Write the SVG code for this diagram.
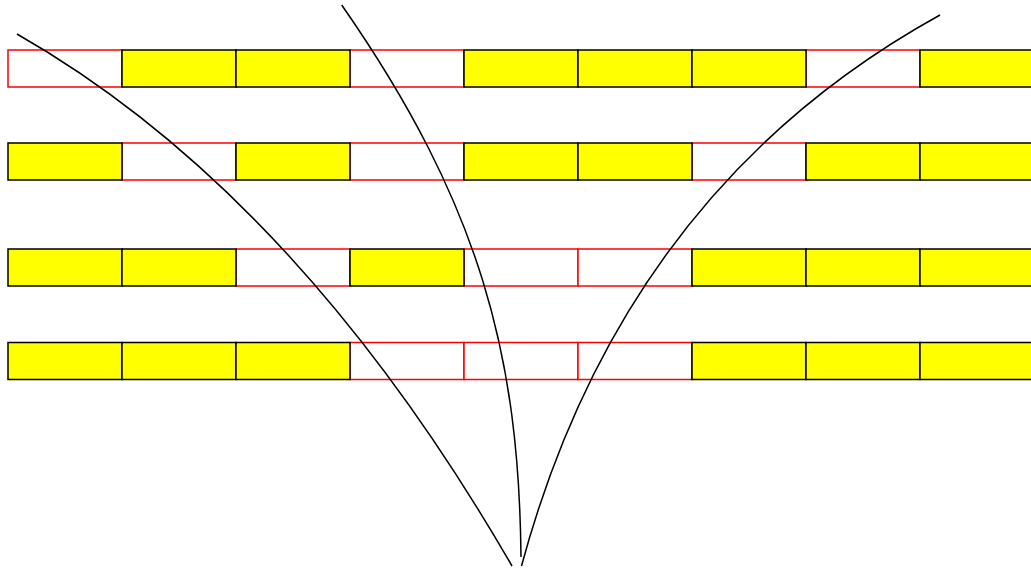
<svg xmlns="http://www.w3.org/2000/svg" width="1031" height="571" viewBox="0 0 1031 571">
<style>
.e{fill:#fff;stroke:#f00;stroke-width:1.5}
.y{fill:#ff0;stroke:#000;stroke-width:1.5}
.c{fill:none;stroke:#000;stroke-width:1.5}
</style>
<rect width="1031" height="571" fill="#fff"/>
<g id="row1">
<rect class="e" x="8" y="50" width="114" height="37"/>
<rect class="e" x="350" y="50" width="114" height="37"/>
<rect class="e" x="806" y="50" width="114" height="37"/>
<rect class="y" x="122" y="50" width="114" height="37"/>
<rect class="y" x="236" y="50" width="114" height="37"/>
<rect class="y" x="464" y="50" width="114" height="37"/>
<rect class="y" x="578" y="50" width="114" height="37"/>
<rect class="y" x="692" y="50" width="114" height="37"/>
<rect class="y" x="920" y="50" width="114" height="37"/>
</g>
<g id="row2">
<rect class="e" x="122" y="143" width="114" height="37"/>
<rect class="e" x="350" y="143" width="114" height="37"/>
<rect class="e" x="692" y="143" width="114" height="37"/>
<rect class="y" x="8" y="143" width="114" height="37"/>
<rect class="y" x="236" y="143" width="114" height="37"/>
<rect class="y" x="464" y="143" width="114" height="37"/>
<rect class="y" x="578" y="143" width="114" height="37"/>
<rect class="y" x="806" y="143" width="114" height="37"/>
<rect class="y" x="920" y="143" width="114" height="37"/>
</g>
<g id="row3">
<rect class="e" x="236" y="249" width="114" height="37"/>
<rect class="e" x="464" y="249" width="114" height="37"/>
<rect class="e" x="578" y="249" width="114" height="37"/>
<rect class="y" x="8" y="249" width="114" height="37"/>
<rect class="y" x="122" y="249" width="114" height="37"/>
<rect class="y" x="350" y="249" width="114" height="37"/>
<rect class="y" x="692" y="249" width="114" height="37"/>
<rect class="y" x="806" y="249" width="114" height="37"/>
<rect class="y" x="920" y="249" width="114" height="37"/>
</g>
<g id="row4">
<rect class="e" x="350" y="342.5" width="114" height="37"/>
<rect class="e" x="464" y="342.5" width="114" height="37"/>
<rect class="e" x="578" y="342.5" width="114" height="37"/>
<rect class="y" x="8" y="342.5" width="114" height="37"/>
<rect class="y" x="122" y="342.5" width="114" height="37"/>
<rect class="y" x="236" y="342.5" width="114" height="37"/>
<rect class="y" x="692" y="342.5" width="114" height="37"/>
<rect class="y" x="806" y="342.5" width="114" height="37"/>
<rect class="y" x="920" y="342.5" width="114" height="37"/>
</g>
<g id="connectors">
<path class="c" d="M17,34 Q297,194 512,566"/>
<path class="c" d="M341.7,5 C481,205 519,357 521,557"/>
<path class="c" d="M940,15 Q623,190 521.5,566"/>
</g>
</svg>
